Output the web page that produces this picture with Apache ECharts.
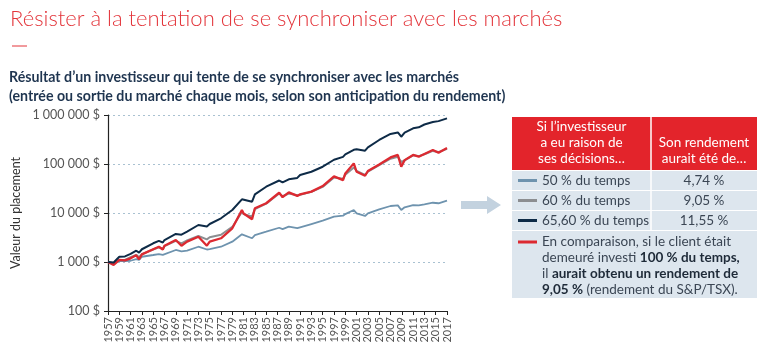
<!DOCTYPE html>
<html>
<head>
<meta charset="utf-8">
<script src="https://cdn.jsdelivr.net/npm/echarts@6/dist/echarts.min.js"></script>
<style>
  html, body { margin: 0; padding: 0; background: #fff; }
  #chart { width: 766px; height: 351px; }
</style>
</head>
<body>
<div id="chart"></div>
<script>
// dates (années décimales)
let dates = [1957, 1958, 1959, 1960, 1961, 1962, 1962.5, 1963, 1965, 1966, 1966.7, 1967, 1969, 1970, 1971, 1973, 1974.5, 1975, 1977, 1979,
    1980.7, 1981, 1982.5, 1983, 1985, 1987.3, 1987.9, 1989, 1990.5, 1991, 1993, 1995, 1997, 1998.6, 1999, 2000.5, 2001, 2002.5, 2003, 2005,
    2007, 2008.3, 2008.9, 2009.5, 2011, 2012, 2013, 2014.5, 2015.5, 2017];

// 50 % du temps
let pct50 = [1000, 950, 1050, 1040, 1060, 1150, 1100, 1280, 1390, 1450, 1400, 1500, 1760, 1650, 1700, 2050, 1800, 1840, 2050, 2600,
    3670, 3500, 3050, 3550, 4150, 5000, 4700, 5260, 4900, 5100, 5960, 6970, 8400, 8800, 9500, 11500, 9800, 8700, 9800, 11900,
    13900, 14300, 11500, 13100, 14500, 14300, 15000, 16200, 15800, 17800];

// 60 % du temps
let pct60 = [1000, 920, 1100, 1100, 1250, 1400, 1250, 1450, 1800, 2000, 1850, 2100, 2700, 2400, 2750, 3400, 2900, 3200, 3600, 5200,
    10500, 9500, 8500, 12000, 15500, 25000, 22000, 25000, 23000, 23500, 27000, 34000, 53000, 50000, 60000, 85000, 72000, 60000, 70000, 95000,
    128000, 140000, 110000, 118000, 150000, 145000, 158000, 185000, 175000, 205000];

// 65,60 % du temps
let pct656 = [1000, 980, 1280, 1300, 1460, 1700, 1550, 1820, 2410, 2700, 2500, 2810, 3730, 3600, 4150, 5690, 5300, 5960, 7800, 11500,
    19000, 18500, 17000, 24000, 34400, 46000, 42000, 48700, 52000, 59600, 69500, 88000, 122000, 140000, 157000, 195000, 200000, 187000, 218000, 309000,
    410000, 440000, 360000, 435000, 534000, 560000, 640000, 720000, 750000, 855000];

// investi 100 % du temps (S&P/TSX)
let tsx100 = [1000, 870, 1100, 1080, 1190, 1370, 1140, 1430, 1820, 2050, 1800, 2150, 2810, 2150, 2600, 3280, 2150, 2600, 3050, 4870,
    11500, 9800, 7450, 12500, 15800, 26000, 21000, 26400, 22300, 24000, 27300, 35500, 56000, 47000, 64000, 103000, 69500, 57600, 72000, 98000,
    136000, 153000, 88000, 120000, 153000, 141000, 160000, 193000, 170000, 212000];

let rowLabels = ['50 % du temps', '60 % du temps', '65,60 % du temps'];
let rowReturns = ['4,74 %', '9,05 %', '11,55 %'];
let rowColors = ['#6e93ae', '#8c8e91', '#0e2b47'];

function zip(vals) {
    return dates.map(function(d, i) { return [d, vals[i]]; });
}

function fmtMoney(v) {
    return String(Math.round(v)).replace(/\B(?=(\d{3})+(?!\d))/g, ' ') + ' $';
}

let myChart = echarts.init(document.getElementById('chart'));

let font = 'Lato, "Noto Sans", sans-serif';
let graphic = [];

// petit trait rouge sous le titre
graphic.push({ type: 'line', shape: { x1: 12, y1: 46, x2: 27, y2: 46 }, style: { stroke: '#e3353b', lineWidth: 1 } });

// flèche
graphic.push({
    type: 'polygon',
    shape: { points: [[461, 201], [487, 201], [487, 196], [501, 205], [487, 214], [487, 209], [461, 209]] },
    style: { fill: '#c3d2df' }
});

// tableau : entête
let tL = 512, tM = 651, tR = 757, tTop = 117, hBot = 170;
graphic.push({ type: 'rect', shape: { x: tL, y: tTop, width: tR - tL, height: hBot - tTop }, style: { fill: '#e3242b' } });
graphic.push({ type: 'line', shape: { x1: tM, y1: tTop, x2: tM, y2: hBot }, style: { stroke: '#fff', lineWidth: 1.5 } });
graphic.push({ type: 'text', style: { text: 'Si l\u2019investisseur\na eu raison de\nses décisions…', x: (tL + tM) / 2, y: 119,
    fill: '#fff', font: '13.5px ' + font, textAlign: 'center', lineHeight: 16 } });
graphic.push({ type: 'text', style: { text: 'Son rendement\naurait été de…', x: (tM + tR) / 2, y: 135,
    fill: '#fff', font: '13.5px ' + font, textAlign: 'center', lineHeight: 16 } });

// tableau : lignes
let rowTops = [170, 190, 210, 230];
let rowBots = [190, 210, 230, 298];
for (let i = 0; i < 4; i++) {
    graphic.push({ type: 'rect', shape: { x: tL, y: rowTops[i] + 1, width: tR - tL, height: rowBots[i] - rowTops[i] - 1 },
        style: { fill: '#dde6ee' } });
}
graphic.push({ type: 'line', shape: { x1: tM, y1: 170, x2: tM, y2: 230 }, style: { stroke: '#fff', lineWidth: 1.5 } });
for (let i = 0; i < 3; i++) {
    let cy = (rowTops[i] + rowBots[i]) / 2 + 0.5;
    graphic.push({ type: 'line', shape: { x1: 518, y1: cy, x2: 537, y2: cy }, style: { stroke: rowColors[i], lineWidth: 3 } });
    graphic.push({ type: 'text', style: { text: rowLabels[i], x: 542, y: cy, fill: '#3b4654', font: '13.5px ' + font,
        textVerticalAlign: 'middle' } });
    graphic.push({ type: 'text', style: { text: rowReturns[i], x: (tM + tR) / 2, y: cy, fill: '#3b4654', font: '13.5px ' + font,
        textAlign: 'center', textVerticalAlign: 'middle' } });
}
graphic.push({ type: 'line', shape: { x1: 518, y1: 242, x2: 537, y2: 242 }, style: { stroke: '#dc2a31', lineWidth: 3 } });
graphic.push({ type: 'text', style: {
    text: 'En comparaison, si le client était\ndemeuré investi {b|100 % du temps,}\nil {b|aurait obtenu un rendement de}\n{b|9,05 %} (rendement du S&P/TSX).',
    x: 542, y: 234, fill: '#3b4654', font: '13.5px ' + font, lineHeight: 16,
    rich: { b: { fontWeight: 'bold', fill: '#1e2a38', fontSize: 13.5, fontFamily: font, lineHeight: 16 } }
} });

let option = {
    animation: false,
    textStyle: { fontFamily: font },
    title: [{
        text: 'Résister à la tentation de se synchroniser avec les marchés',
        left: 5, top: 3,
        textStyle: { fontSize: 22, fontWeight: 300, color: '#e3353b', fontFamily: font }
    }, {
        text: 'Résultat d\u2019un investisseur qui tente de se synchroniser avec les marchés\n(entrée ou sortie du marché chaque mois, selon son anticipation du rendement)',
        left: 4, top: 63,
        textStyle: { fontSize: 14.2, fontWeight: 'bold', color: '#1f3550', lineHeight: 19, fontFamily: font }
    }],
    grid: { left: 108, top: 115, right: 319, bottom: 40 },
    xAxis: {
        type: 'value',
        min: 1957, max: 2017, interval: 2,
        axisLine: { lineStyle: { color: '#222', width: 1.2 } },
        axisTick: { show: true, length: 4, lineStyle: { color: '#222' } },
        axisLabel: { rotate: 90, color: '#555', fontSize: 11, margin: 6, formatter: function(v) { return String(v); } },
        splitLine: { show: false }
    },
    yAxis: {
        type: 'log', logBase: 10,
        min: 100, max: 1000000,
        name: 'Valeur du placement',
        nameLocation: 'middle', nameGap: 86, nameRotate: 90,
        nameTextStyle: { color: '#333', fontSize: 12.5 },
        axisLine: { show: true, lineStyle: { color: '#222', width: 1.2 } },
        axisTick: { show: true, length: 4, lineStyle: { color: '#222' } },
        axisLabel: { color: '#555', fontSize: 12.5, margin: 8, formatter: fmtMoney },
        splitLine: { show: true, lineStyle: { color: '#a9c1d1', type: [2, 3], width: 1 } }
    },
    series: [
        { name: '50 % du temps', type: 'line', data: zip(pct50), showSymbol: false, lineStyle: { color: '#6e93ae', width: 1.8 }, z: 2 },
        { name: '60 % du temps', type: 'line', data: zip(pct60), showSymbol: false, lineStyle: { color: '#8c8e91', width: 2 }, z: 3 },
        { name: '100 % du temps', type: 'line', data: zip(tsx100), showSymbol: false, lineStyle: { color: '#dc2a31', width: 2.3 }, z: 4 },
        { name: '65,60 % du temps', type: 'line', data: zip(pct656), showSymbol: false, lineStyle: { color: '#0e2b47', width: 2 }, z: 5 }
    ],
    graphic: graphic
};
myChart.setOption(option);
window.onresize = myChart.resize;
</script>
</body>
</html>
